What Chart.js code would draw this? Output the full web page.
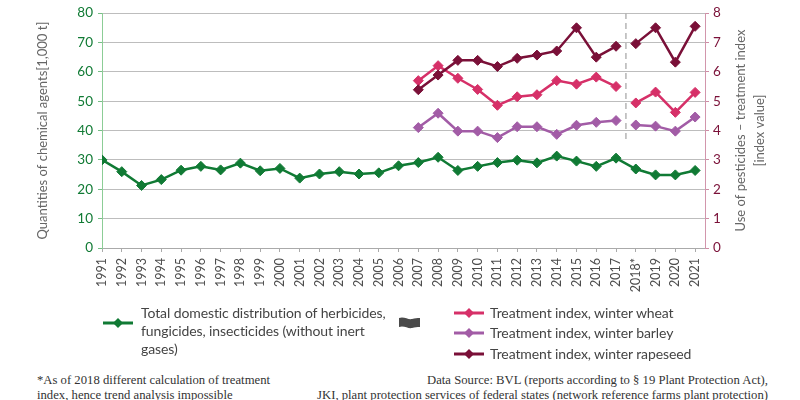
<!DOCTYPE html>
<html>
<head>
<meta charset="utf-8">
<script src="https://cdn.jsdelivr.net/npm/chart.js@4.4.1/dist/chart.umd.min.js"></script>
<style>
  html, body { margin: 0; padding: 0; background: #fff; }
  #wrap { position: relative; width: 800px; height: 400px; overflow: hidden; font-family: Lato, sans-serif; }
  #chartBox { position: absolute; left: 0; top: 0; width: 800px; height: 310px; }
  .legend-text { position: absolute; font-size: 14px; line-height: 18px; color: #444; white-space: nowrap; letter-spacing: -0.1px; }
  .note { position: absolute; font-family: "Liberation Serif", serif; font-size: 12.7px; line-height: 15px; color: #333; white-space: nowrap; }
  .mark { position: absolute; }
</style>
</head>
<body>
<div id="wrap">
  <div id="chartBox"><canvas id="myChart"></canvas></div>
  <div id="legend"></div>
  <div class="note" style="left:37px; top:373px;">*As of 2018 different calculation of treatment<br>index, hence trend analysis impossible</div>
  <div class="note" style="right:32px; top:373px; text-align:right;">Data Source: BVL (reports according to § 19 Plant Protection Act),<br>JKI, plant protection services of federal states (network reference farms plant protection)</div>
</div>
<script>
Chart.defaults.font.family = "Lato";
Chart.defaults.color = "#555";

const years = ['1991','1992','1993','1994','1995','1996','1997','1998','1999','2000',
  '2001','2002','2003','2004','2005','2006','2007','2008','2009','2010',
  '2011','2012','2013','2014','2015','2016','2017','2018*','2019','2020','2021'];

// 1,000 t, left axis
const totalDistribution = [30.0, 26.0, 21.3, 23.3, 26.5, 27.8, 26.6, 28.9, 26.3, 27.1,
  23.8, 25.2, 26.0, 25.2, 25.6, 28.0, 29.1, 30.9, 26.4, 27.8,
  29.1, 29.9, 29.0, 31.3, 29.6, 27.8, 30.6, 26.9, 24.9, 24.9, 26.4];

// treatment index 2007-2021, right axis
const indexStart = '2007';
const winterWheat    = [5.70, 6.21, 5.78, 5.40, 4.86, 5.15, 5.22, 5.70, 5.58, 5.82, 5.50, 4.94, 5.31, 4.62, 5.30];
const winterBarley   = [4.10, 4.59, 3.98, 3.98, 3.76, 4.13, 4.13, 3.87, 4.18, 4.28, 4.34, 4.19, 4.15, 3.98, 4.46];
const winterRapeseed = [5.39, 5.89, 6.39, 6.39, 6.18, 6.46, 6.57, 6.71, 7.50, 6.50, 6.87, 6.96, 7.50, 6.33, 7.55];

const leftTicks = [0, 10, 20, 30, 40, 50, 60, 70, 80];
const rightTicks = [0, 1, 2, 3, 4, 5, 6, 7, 8];

const leftTitle = 'Quantities of chemical agents[1,000 t]';
const rightTitle = ['Use of pesticides \u2013 treatment index', '[index value]'];

const green = 'rgb(16,122,52)';
const wheatColor = 'rgb(214,48,104)';
const barleyColor = 'rgb(162,92,166)';
const rapeColor = 'rgb(122,16,56)';

// index of the last year before the change of calculation
const breakIndex = years.indexOf('2018*') - 1;
const startIdx = years.indexOf(indexStart);

function toPoints(values, offset) {
  return years.map((y, i) => {
    const v = values[i - offset];
    return { x: i, y: v === undefined ? null : v };
  });
}

function indexSet(label, values, color) {
  return {
    label: label,
    data: toPoints(values, startIdx),
    yAxisID: 'y1',
    borderColor: color,
    backgroundColor: color,
    pointBackgroundColor: color,
    pointBorderColor: color,
    borderWidth: 2.5,
    pointStyle: 'rectRot',
    pointRadius: 5,
    pointBorderWidth: 1,
    spanGaps: false,
    segment: {
      borderColor: ctx => ctx.p0DataIndex === breakIndex ? 'transparent' : undefined
    }
  };
}

const data = {
  datasets: [
    {
      label: 'Total domestic distribution of herbicides, fungicides, insecticides (without inert gases)',
      data: toPoints(totalDistribution, 0),
      yAxisID: 'y',
      borderColor: green,
      backgroundColor: green,
      pointBackgroundColor: green,
      pointBorderColor: green,
      borderWidth: 2.5,
      pointStyle: 'rectRot',
      pointRadius: 5,
      pointBorderWidth: 1
    },
    indexSet('Treatment index, winter rapeseed', winterRapeseed, rapeColor),
    indexSet('Treatment index, winter wheat', winterWheat, wheatColor),
    indexSet('Treatment index, winter barley', winterBarley, barleyColor)
  ]
};

// axis titles (right one reads bottom-up like the left) and the dashed break line
const extras = {
  id: 'extras',
  beforeDatasetsDraw(chart) {
    const ctx = chart.ctx;
    const x = chart.scales.x.getPixelForValue(breakIndex + 0.5);
    const y1 = chart.scales.y1;
    ctx.save();
    ctx.strokeStyle = '#b5b5b5';
    ctx.lineWidth = 1.5;
    ctx.setLineDash([6, 4]);
    ctx.beginPath();
    ctx.moveTo(x, y1.getPixelForValue(8));
    ctx.lineTo(x, y1.getPixelForValue(3.6));
    ctx.stroke();
    ctx.restore();
  },
  afterDraw(chart) {
    const ctx = chart.ctx;
    const area = chart.chartArea;
    const cy = (area.top + area.bottom) / 2;
    ctx.save();
    ctx.fillStyle = '#666';
    ctx.font = '13px Lato';
    ctx.textAlign = 'center';
    ctx.textBaseline = 'middle';
    ctx.translate(43, cy);
    ctx.rotate(-Math.PI / 2);
    ctx.fillText(leftTitle, 0, 0);
    ctx.restore();

    ctx.save();
    ctx.fillStyle = '#666';
    ctx.font = '13px Lato';
    ctx.textAlign = 'center';
    ctx.textBaseline = 'middle';
    rightTitle.forEach((line, k) => {
      ctx.save();
      ctx.translate(area.right + 36 + k * 19, cy);
      ctx.rotate(-Math.PI / 2);
      ctx.fillText(line, 0, 0);
      ctx.restore();
    });
    ctx.restore();
  }
};

const chartOptions = {
  responsive: true,
  maintainAspectRatio: false,
  animation: false,
  layout: { padding: { top: 11, left: 0, right: 0, bottom: 0 } },
  plugins: { legend: { display: false }, tooltip: { enabled: false } },
  scales: {
    x: {
      type: 'linear',
      min: 0,
      max: years.length - 0.5,
      afterBuildTicks: s => { s.ticks = years.map((_, i) => ({ value: i })); },
      afterFit: s => { s.height = 62; },
      ticks: {
        autoSkip: false,
        maxRotation: 90,
        minRotation: 90,
        padding: 6,
        color: '#4d4d4d',
        font: { size: 12.5 },
        callback: v => years[v]
      },
      grid: { drawOnChartArea: false, tickLength: 4, color: '#aaa' },
      border: { color: '#aaa' }
    },
    y: {
      position: 'left',
      min: 0,
      max: 80,
      afterBuildTicks: s => { s.ticks = leftTicks.map(v => ({ value: v })); },
      afterFit: s => { s.width = 102; },
      ticks: { color: green, padding: 5, font: { size: 13.5 } },
      grid: { color: '#bdbdbd', tickColor: 'rgb(120,190,135)', tickLength: 4 },
      border: { color: 'rgb(140,205,150)' }
    },
    y1: {
      position: 'right',
      min: 0,
      max: 8,
      afterBuildTicks: s => { s.ticks = rightTicks.map(v => ({ value: v })); },
      afterFit: s => { s.width = 95; },
      ticks: { color: rapeColor, padding: 4, font: { size: 13.5 } },
      grid: { drawOnChartArea: false, tickColor: 'rgb(205,140,165)', tickLength: 4 },
      border: { color: 'rgb(210,150,172)' }
    }
  }
};

const myChart = new Chart(document.getElementById('myChart'), {
  type: 'line',
  data: data,
  options: chartOptions,
  plugins: [extras]
});

// HTML legend, laid out like the original (two groups with a break sign between)
function marker(left, top, color) {
  return '<svg class="mark" style="left:' + left + 'px;top:' + (top - 6) + 'px" width="30" height="12">' +
    '<line x1="0" y1="6" x2="30" y2="6" stroke="' + color + '" stroke-width="3"/>' +
    '<polygon points="15,1 20,6 15,11 10,6" fill="' + color + '"/></svg>';
}

const legendRight = [
  ['Treatment index, winter wheat', wheatColor, 313],
  ['Treatment index, winter barley', barleyColor, 333],
  ['Treatment index, winter rapeseed', rapeColor, 354]
];

let html = marker(103, 323, green) +
  '<div class="legend-text" style="left:141px;top:304px;">Total domestic distribution of herbicides,<br>fungicides, insecticides (without inert<br>gases)</div>' +
  '<svg class="mark" style="left:398px;top:316px" width="24" height="13">' +
  '<path d="M1,2 C6,0 10,4 14,3 C17,2 19,2 22,2 L22,11 C19,11 17,11 14,12 C10,13 6,9 1,11 Z" fill="#4a4a4a"/></svg>';
legendRight.forEach(([label, color, y]) => {
  html += marker(454, y, color) +
    '<div class="legend-text" style="left:490px;top:' + (y - 9) + 'px;">' + label + '</div>';
});
document.getElementById('legend').innerHTML = html;
</script>
</body>
</html>
